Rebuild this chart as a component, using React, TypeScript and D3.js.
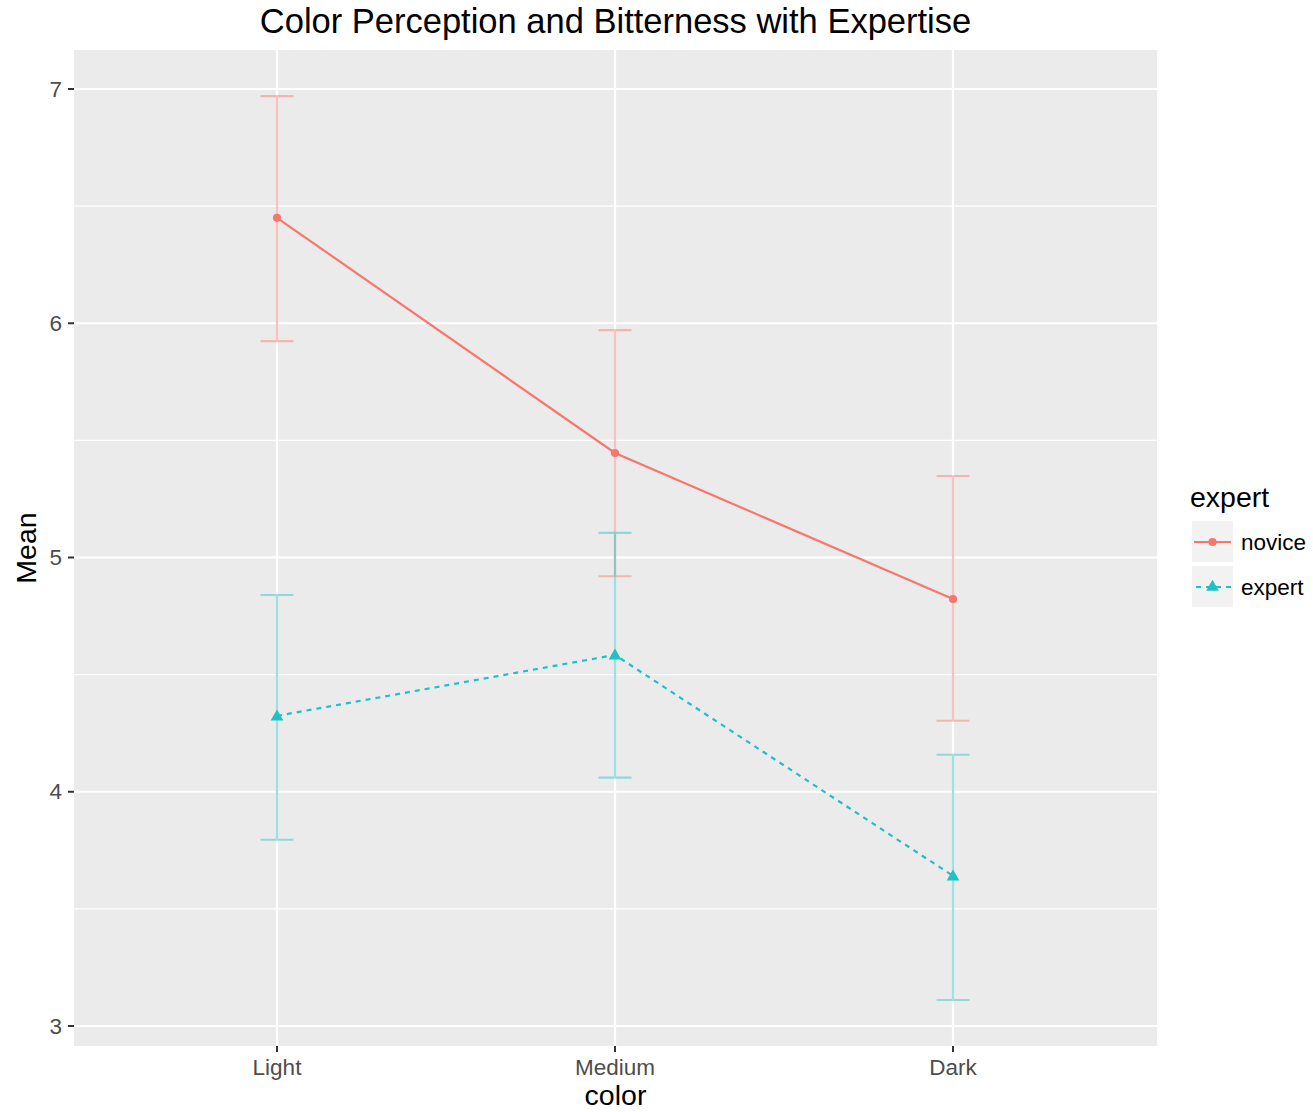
import { useRef, useEffect } from 'react';
import * as d3 from 'd3';

// data
const colorLevels = ['Light', 'Medium', 'Dark'];
const noviceMean = [6.45, 5.446, 4.823];
const noviceLower = [5.924, 4.92, 4.303];
const noviceUpper = [6.97, 5.971, 5.348];
const expertMean = [4.324, 4.584, 3.641];
const expertLower = [3.795, 4.06, 3.111];
const expertUpper = [4.84, 5.105, 4.158];
const yTicks = [3, 4, 5, 6, 7];
const yMinorTicks = [3.5, 4.5, 5.5, 6.5];
const groups = ['novice', 'expert'];

const W = 1313;
const H = 1112;

export default function App() {
    const svgRef = useRef<SVGSVGElement>(null);

    useEffect(() => {
        const svg = d3.select(svgRef.current).html('');
        const font = 'Helvetica, Arial, "Liberation Sans", sans-serif';

        const panel = { left: 74, right: 1157, top: 50, bottom: 1046 };

        // discrete x scale with ggplot-like 0.6 expansion
        const x = d3.scalePoint<string>()
            .domain(colorLevels)
            .range([277, 953]);
        const y = d3.scaleLinear()
            .domain([3, 7])
            .range([1026, 89]);

        // panel background
        svg.append('rect')
            .attr('x', panel.left).attr('y', panel.top)
            .attr('width', panel.right - panel.left)
            .attr('height', panel.bottom - panel.top)
            .attr('fill', '#ebebeb');

        // grid lines
        svg.selectAll('.minor-y').data(yMinorTicks).enter().append('line')
            .attr('x1', panel.left).attr('x2', panel.right)
            .attr('y1', d => y(d)).attr('y2', d => y(d))
            .attr('stroke', '#ffffff').attr('stroke-width', 1.1);
        svg.selectAll('.major-y').data(yTicks).enter().append('line')
            .attr('x1', panel.left).attr('x2', panel.right)
            .attr('y1', d => y(d)).attr('y2', d => y(d))
            .attr('stroke', '#ffffff').attr('stroke-width', 2.2);
        svg.selectAll('.major-x').data(colorLevels).enter().append('line')
            .attr('x1', d => x(d)!).attr('x2', d => x(d)!)
            .attr('y1', panel.top).attr('y2', panel.bottom)
            .attr('stroke', '#ffffff').attr('stroke-width', 2.2);

        const colors: Record<string, string> = { novice: '#F8766D', expert: '#1fc1c6' };
        const series = [
            { key: 'novice', mean: noviceMean, lo: noviceLower, hi: noviceUpper, dash: null },
            { key: 'expert', mean: expertMean, lo: expertLower, hi: expertUpper, dash: '5,5' },
        ];

        const capHalf = 16.5;

        // error bars
        series.forEach(s => {
            const g = svg.append('g').attr('stroke', colors[s.key]).attr('stroke-opacity', 0.45).attr('stroke-width', 2.2).attr('fill', 'none');
            colorLevels.forEach((c, i) => {
                const cx = x(c)!;
                g.append('path')
                    .attr('d', `M${cx - capHalf},${y(s.hi[i])}H${cx + capHalf}M${cx},${y(s.hi[i])}V${y(s.lo[i])}M${cx - capHalf},${y(s.lo[i])}H${cx + capHalf}`);
            });
        });

        // lines and points
        series.forEach(s => {
            const line = d3.line<number>()
                .x((_, i) => x(colorLevels[i])!)
                .y(d => y(d));
            const p = svg.append('path')
                .attr('d', line(s.mean))
                .attr('fill', 'none')
                .attr('stroke', colors[s.key])
                .attr('stroke-width', 2.2);
            if (s.dash) p.attr('stroke-dasharray', s.dash);

            const sym = d3.symbol().type(s.key === 'novice' ? d3.symbolCircle : d3.symbolTriangle).size(s.key === 'novice' ? 52 : 70);
            svg.selectAll(`.pt-${s.key}`).data(s.mean).enter().append('path')
                .attr('d', sym())
                .attr('transform', (d, i) => `translate(${x(colorLevels[i])},${y(d) + (s.key === 'expert' ? 1 : 0)})`)
                .attr('fill', colors[s.key]);
        });

        // axes ticks and labels
        const tickColor = '#333333';
        svg.selectAll('.ytick').data(yTicks).enter().append('line')
            .attr('x1', panel.left - 6).attr('x2', panel.left)
            .attr('y1', d => y(d)).attr('y2', d => y(d))
            .attr('stroke', tickColor).attr('stroke-width', 2);
        svg.selectAll('.ylab').data(yTicks).enter().append('text')
            .attr('x', panel.left - 12).attr('y', d => y(d))
            .attr('text-anchor', 'end').attr('dominant-baseline', 'central')
            .attr('font-family', font).attr('font-size', 22.5).attr('fill', '#4d4d4d')
            .text(d => d);

        svg.selectAll('.xtick').data(colorLevels).enter().append('line')
            .attr('x1', d => x(d)!).attr('x2', d => x(d)!)
            .attr('y1', panel.bottom).attr('y2', panel.bottom + 6)
            .attr('stroke', tickColor).attr('stroke-width', 2);
        svg.selectAll('.xlab').data(colorLevels).enter().append('text')
            .attr('x', d => x(d)!).attr('y', panel.bottom + 29)
            .attr('text-anchor', 'middle')
            .attr('font-family', font).attr('font-size', 22.5).attr('fill', '#4d4d4d')
            .text(d => d);

        // axis titles
        svg.append('text')
            .attr('x', (panel.left + panel.right) / 2).attr('y', 1105)
            .attr('text-anchor', 'middle')
            .attr('font-family', font).attr('font-size', 28.5).attr('fill', '#000')
            .text('color');
        svg.append('text')
            .attr('transform', `translate(36,${(panel.top + panel.bottom) / 2}) rotate(-90)`)
            .attr('text-anchor', 'middle')
            .attr('font-family', font).attr('font-size', 28.5).attr('fill', '#000')
            .text('Mean');

        // title
        svg.append('text')
            .attr('x', (panel.left + panel.right) / 2).attr('y', 33)
            .attr('text-anchor', 'middle')
            .attr('font-family', font).attr('font-size', 34.5).attr('fill', '#000')
            .text('Color Perception and Bitterness with Expertise');

        // legend
        const lg = svg.append('g').attr('transform', 'translate(1190,482)');
        lg.append('text')
            .attr('x', 0).attr('y', 25)
            .attr('font-family', font).attr('font-size', 28.5).attr('fill', '#000')
            .text('expert');
        groups.forEach((k, i) => {
            const ky = 39 + i * 45;
            lg.append('rect')
                .attr('x', 2).attr('y', ky).attr('width', 41).attr('height', 41)
                .attr('fill', '#f2f2f2');
            const ln = lg.append('line')
                .attr('x1', 4).attr('x2', 41)
                .attr('y1', ky + 21).attr('y2', ky + 21)
                .attr('stroke', colors[k]).attr('stroke-width', 2.2);
            if (k === 'expert') ln.attr('stroke-dasharray', '5,5').attr('x1', 6);
            const sym = d3.symbol().type(k === 'novice' ? d3.symbolCircle : d3.symbolTriangle).size(k === 'novice' ? 52 : 70);
            lg.append('path')
                .attr('d', sym())
                .attr('transform', `translate(22.5,${ky + 21})`)
                .attr('fill', colors[k]);
            lg.append('text')
                .attr('x', 51).attr('y', ky + 21)
                .attr('dominant-baseline', 'central')
                .attr('font-family', font).attr('font-size', 22.5).attr('fill', '#000')
                .text(k);
        });
    }, []);

    return (
        <svg ref={svgRef} width={W} height={H} style={{ position: 'absolute', left: 0, top: 0, background: '#fff' }}></svg>
    );
}
